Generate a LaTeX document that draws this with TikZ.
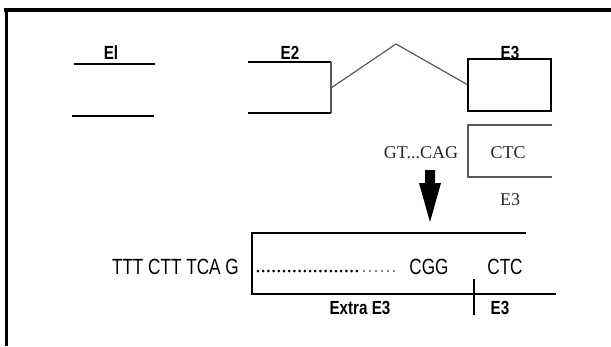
\documentclass[tikz,border=0pt]{standalone}
\usepackage{fontspec}
\newfontfamily\labfont[FakeStretch=0.8]{Liberation Sans}
\newfontfamily\seqfont[FakeStretch=0.78]{Liberation Sans}
\newfontfamily\gfont{Liberation Serif}
\definecolor{scan}{gray}{0.35}
\tikzset{
  lab/.style={inner sep=0pt, anchor=base, font=\labfont\bfseries\fontsize{19}{21}\selectfont},
  seq/.style={inner sep=0pt, anchor=base, font=\seqfont\fontsize{22}{24}\selectfont},
  gtxt/.style={inner sep=0pt, anchor=base, text=black!85, font=\gfont\fontsize{18}{20}\selectfont},
  thinline/.style={line width=1.2pt},
  thickline/.style={line width=2pt},
  grayline/.style={line width=1.2pt, draw=scan},
}
\begin{document}
\begin{tikzpicture}[x=1pt,y=-1pt]
\useasboundingbox (0,0) rectangle (611,346);
% frame
\draw[line width=4pt] (4,10) -- (611,10);
\draw[line width=3pt] (6,8) -- (6,346);
% E1
\node[lab] (e1) at (111,59) {El};
\coordinate (e1a) at (74,64); \coordinate (e1b) at (155,64);
\coordinate (e1c) at (72,116); \coordinate (e1d) at (154,116);
\draw[thinline] (e1a) -- (e1b);
\draw[thickline] (e1c) -- (e1d);
% E2
\node[lab] (e2) at (290,59) {E2};
\coordinate (e2a) at (248,62); \coordinate (e2b) at (331,62);
\coordinate (e2c) at (331,113); \coordinate (e2d) at (248,113);
\draw[thickline] (e2a) -- (e2b);
\draw[grayline] (e2b) -- (e2c);
\draw[thinline] (e2c) -- (e2d);
% intron zigzag
\coordinate (z1) at (331,88); \coordinate (z2) at (396,44); \coordinate (z3) at (468,85);
\draw[grayline] (z1) -- (z2) -- (z3);
% E3 box
\node[lab] (e3top) at (510,59) {E3};
\coordinate (b1) at (468,59); \coordinate (b2) at (551,111);
\draw[thinline] (b1) rectangle (b2);
% second box (open)
\coordinate (c1) at (552,125); \coordinate (c2) at (468,125);
\coordinate (c3) at (468,177); \coordinate (c4) at (552,177);
\draw[grayline] (c1) -- (c2) -- (c3) -- (c4);
\node[gtxt] (gt) at (421,158) {GT...CAG};
\node[gtxt] (ctc1) at (508,158) {CTC};
\node[gtxt] (e3g) at (510,205) {E3};
% arrow
\fill (425,170) -- (435,170) -- (435,183) -- (441,183) -- (430,222) -- (419,183) -- (425,183) -- cycle;
% bottom box
\coordinate (d1) at (526,233); \coordinate (d2) at (252,233);
\coordinate (d3) at (252,294); \coordinate (d4) at (355,294); \coordinate (d5) at (556,294);
\draw[thinline] (d1) -- (d2) -- (d3) -- (d4);
\draw[line width=1.8pt] (d4) -- (d5);
\coordinate (t1) at (474,279); \coordinate (t2) at (474,315);
\draw[thinline] (t1) -- (t2);
% dots
\foreach \i in {0,...,19} \fill (258+\i*5.2,271) circle (1.5);
\foreach \i in {0,...,5} \fill (364+\i*6,271) circle (0.9);
% sequences
\node[seq, anchor=base east] (s1) at (239,274) {TTT CTT TCA G};
\node[seq] (cgg) at (429,274) {CGG};
\node[seq] (ctc2) at (505,274) {CTC};
\node[lab] (extra) at (360,314) {Extra E3};
\node[lab] (e3b) at (500,314) {E3};
\end{tikzpicture}
\end{document}
